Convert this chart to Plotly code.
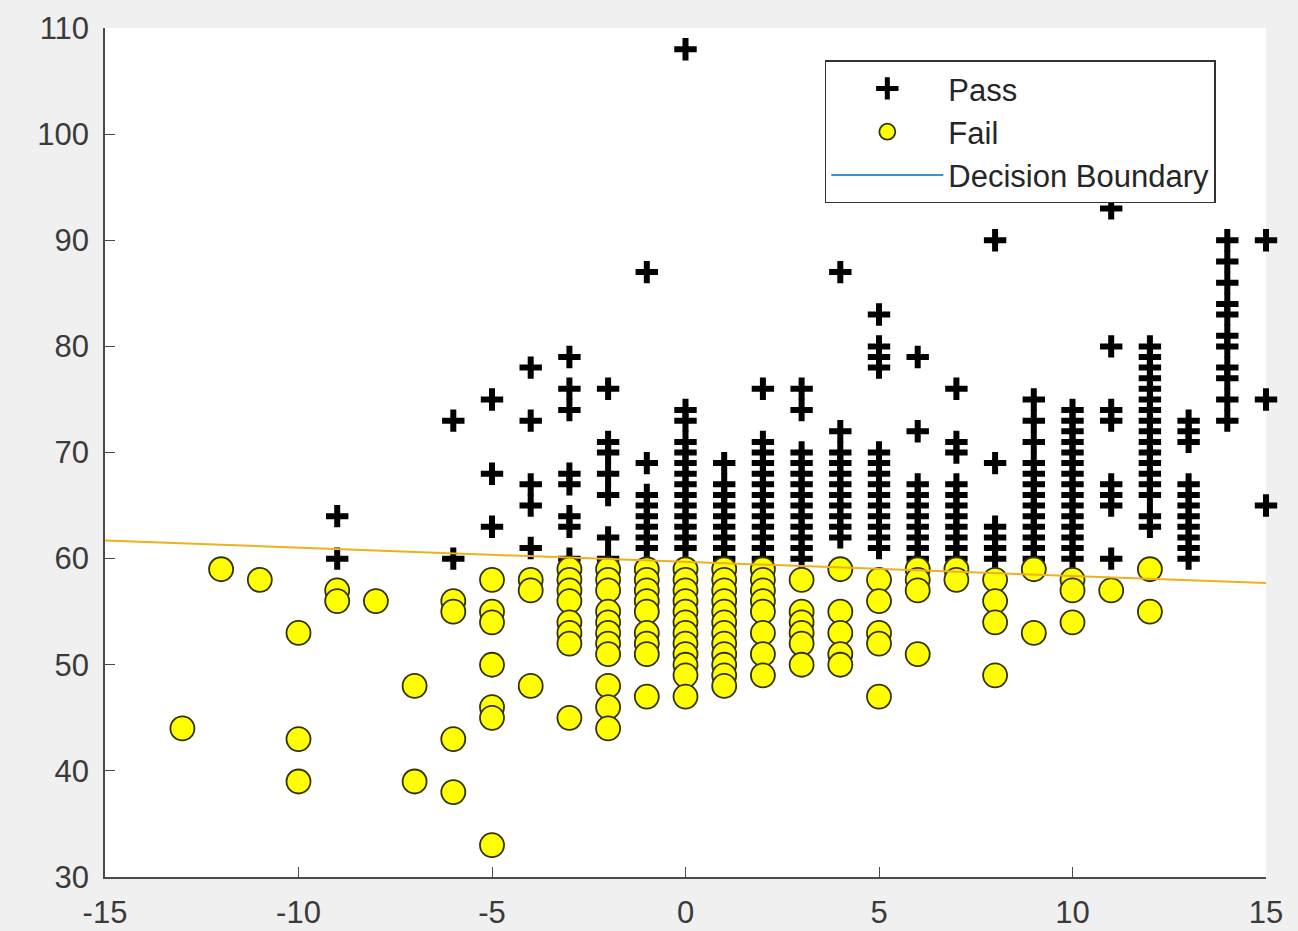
import plotly.graph_objects as go

# ---- data ----
pass_x = (
    [-9] * 2 + [-6] * 2 + [-5] * 3 + [-4] * 5 + [-3] * 8 + [-2] * 7 + [-1] * 8 +
    [0] * 14 + [1] * 9 + [2] * 13 + [3] * 13 + [4] * 11 + [5] * 14 + [6] * 10 +
    [7] * 11 + [8] * 7 + [9] * 13 + [10] * 15 + [11] * 8 + [12] * 17 + [13] * 11 +
    [14] * 11 + [15] * 3
)
pass_y = (
    [64, 60] +
    [73, 60] +
    [75, 68, 63] +
    [78, 73, 67, 65, 61] +
    [79, 76, 74, 68, 67, 64, 63, 60] +
    [76, 71, 70, 68, 66, 62, 60] +
    [87, 69, 66, 65, 64, 63, 62, 61] +
    [108, 74, 73, 71, 70, 69, 68, 67, 66, 65, 64, 63, 62, 61] +
    [69, 67, 66, 65, 64, 63, 62, 61, 60] +
    [76, 71, 70, 69, 68, 67, 66, 65, 64, 63, 62, 61, 60] +
    [76, 74, 70, 69, 68, 67, 66, 65, 64, 63, 62, 61, 60] +
    [87, 72, 70, 69, 68, 67, 66, 65, 64, 63, 62] +
    [83, 80, 79, 78, 70, 69, 68, 67, 66, 65, 64, 63, 62, 61] +
    [79, 72, 67, 66, 65, 64, 63, 62, 61, 60] +
    [76, 71, 70, 67, 66, 65, 64, 63, 62, 61, 60] +
    [95, 90, 69, 63, 62, 61, 60] +
    [75, 73, 71, 69, 68, 67, 66, 65, 64, 63, 62, 61, 60] +
    [74, 73, 72, 71, 70, 69, 68, 67, 66, 65, 64, 63, 62, 61, 60] +
    [93, 80, 74, 73, 67, 66, 65, 60] +
    [80, 79, 78, 77, 76, 75, 74, 73, 72, 71, 70, 69, 68, 67, 66, 64, 63] +
    [73, 72, 71, 67, 66, 65, 64, 63, 62, 61, 60] +
    [90, 88, 86, 84, 83, 81, 80, 78, 77, 75, 73] +
    [90, 75, 65]
)

fail_x = (
    [-13] + [-12] + [-11] + [-10] * 3 + [-9] * 2 + [-8] + [-7] * 2 + [-6] * 4 +
    [-5] * 7 + [-4] * 3 + [-3] * 8 + [-2] * 11 + [-1] * 9 + [0] * 12 + [1] * 12 +
    [2] * 8 + [3] * 6 + [4] * 5 + [5] * 5 + [6] * 4 + [7] * 2 + [8] * 4 + [9] * 2 +
    [10] * 3 + [11] + [12] * 2
)
fail_y = (
    [44] + [59] + [58] +
    [53, 43, 39] +
    [57, 56] +
    [56] +
    [48, 39] +
    [56, 55, 43, 38] +
    [58, 55, 54, 50, 46, 45, 33] +
    [58, 57, 48] +
    [59, 58, 57, 56, 54, 53, 52, 45] +
    [59, 58, 57, 55, 54, 53, 52, 51, 48, 46, 44] +
    [59, 58, 57, 56, 55, 53, 52, 51, 47] +
    [59, 58, 57, 56, 55, 54, 53, 52, 51, 50, 49, 47] +
    [59, 58, 57, 56, 55, 54, 53, 52, 51, 50, 49, 48] +
    [59, 58, 57, 56, 55, 53, 51, 49] +
    [58, 55, 54, 53, 52, 50] +
    [59, 55, 53, 51, 50] +
    [58, 56, 53, 52, 47] +
    [59, 58, 57, 51] +
    [59, 58] +
    [58, 56, 54, 49] +
    [59, 53] +
    [58, 57, 54] +
    [57] +
    [59, 55]
)

boundary_x = [-15, 15]
boundary_y = [61.7, 57.7]

x_ticks = [-15, -10, -5, 0, 5, 10, 15]
y_ticks = [30, 40, 50, 60, 70, 80, 90, 100, 110]

FONT = "Liberation Sans, Arial, sans-serif"
TEXT = "#3a3a3a"
AXIS = "#4a4a4a"

fig = go.Figure()

fig.add_trace(go.Scatter(
    x=pass_x, y=pass_y, mode="markers", name="Pass",
    marker=dict(symbol="cross-thin", size=16, color="black",
                line=dict(color="black", width=6)),
    cliponaxis=False,
))
fig.add_trace(go.Scatter(
    x=fail_x, y=fail_y, mode="markers", name="Fail",
    marker=dict(symbol="circle", size=24, color="#ffff00",
                line=dict(color="#333300", width=1.8)),
    cliponaxis=False,
))
fig.add_trace(go.Scatter(
    x=boundary_x, y=boundary_y, mode="lines", showlegend=False,
    line=dict(color="#EDB120", width=2),
))
# legend entry for the boundary (drawn blue in the reference legend)
fig.add_trace(go.Scatter(
    x=[None], y=[None], mode="lines", name="Decision Boundary",
    line=dict(color="#3b8fd0", width=2),
))

fig.update_layout(
    width=1298, height=931,
    margin=dict(l=105, r=32, t=28, b=54),
    paper_bgcolor="#f0f0f0",
    plot_bgcolor="white",
    font=dict(family=FONT, size=31, color=TEXT),
    showlegend=True,
    legend=dict(
        x=0.62, y=0.962, xanchor="left", yanchor="top",
        bgcolor="white", bordercolor="#333333", borderwidth=1.5,
        font=dict(family=FONT, size=31, color="#262626"),
        itemwidth=112, tracegroupgap=0,
    ),
    xaxis=dict(
        range=[-15, 15], tickvals=x_ticks, ticktext=[str(v) for v in x_ticks],
        showgrid=False, zeroline=False, showline=True, linecolor=AXIS, linewidth=1.5,
        ticks="inside", ticklen=10, tickwidth=1.2, tickcolor=AXIS,
        tickfont=dict(family=FONT, size=31, color=TEXT),
        ticklabelstandoff=7, automargin=False,
        mirror=False,
    ),
    yaxis=dict(
        range=[30, 110], tickvals=y_ticks, ticktext=[str(v) for v in y_ticks],
        showgrid=False, zeroline=False, showline=True, linecolor=AXIS, linewidth=1.5,
        ticks="inside", ticklen=10, tickwidth=1.2, tickcolor=AXIS,
        tickfont=dict(family=FONT, size=31, color=TEXT),
        ticklabelstandoff=8, automargin=False,
        mirror=False,
    ),
)

fig.write_html(
    "out.html",
    config={"displayModeBar": False},
    post_script="document.body.style.margin='0';document.body.style.background='#f0f0f0';",
)
